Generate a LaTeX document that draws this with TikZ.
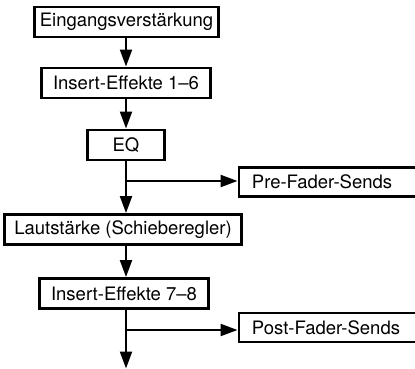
\documentclass[tikz,border=0pt]{standalone}
\usepackage{fontspec}
\setmainfont{TeX Gyre Heros}
\usetikzlibrary{arrows.meta, positioning, calc}

\begin{document}
\begin{tikzpicture}[
    x=1pt, y=-1pt,
    block/.style={rectangle, draw=black, line width=2.9pt, minimum width=#1,
                  minimum height=30pt, inner sep=0pt, font=\fontsize{18.5}{21}\selectfont},
    sendbox/.style={rectangle, draw=black, line width=2.9pt, anchor=west, text width=165pt,
                  inner xsep=13pt, inner ysep=0pt, minimum height=29pt, align=left,
                  font=\fontsize{18.5}{21}\selectfont},
    arrow/.style={-{Triangle[length=17pt, width=12pt]}, line width=2.2pt, color=black}
]
\useasboundingbox (0,0) rectangle (415,369);
\clip (0,0) rectangle (415,369);

\node[block=184pt] (ein)  at (126.5,22)  {Eingangsverstärkung};
\node[block=169pt] (insa) at (126,83)    {Insert-Effekte 1--6};
\node[block=77pt]  (eq)   at (126,145)   {EQ};
\node[block=237pt] (laut) at (123,229.5) {Lautstärke (Schieberegler)};
\node[block=169pt] (insb) at (124,293.5) {Insert-Effekte 7--8};
\node[sendbox]     (pre)  at (237.5,182)   {Pre-Fader-Sends};
\node[sendbox]     (post) at (237.5,327.5) {Post-Fader-Sends};

\coordinate (pretap)  at (126,181);
\coordinate (posttap) at (126,330);
\coordinate (out)     at (126,368.5);

\draw[arrow] (ein.south -| pretap)  -- (insa.north -| pretap);
\draw[arrow] (insa.south -| pretap) -- (eq.north -| pretap);
\draw[arrow] (eq.south -| pretap)   -- (laut.north -| pretap);
\draw[arrow] (pretap) -- (pre.west |- pretap);
\draw[arrow] (laut.south -| pretap) -- (insb.north -| pretap);
\draw[arrow] (insb.south -| pretap) -- (out);
\draw[arrow] (posttap) -- (post.west |- posttap);
\end{tikzpicture}
\end{document}
